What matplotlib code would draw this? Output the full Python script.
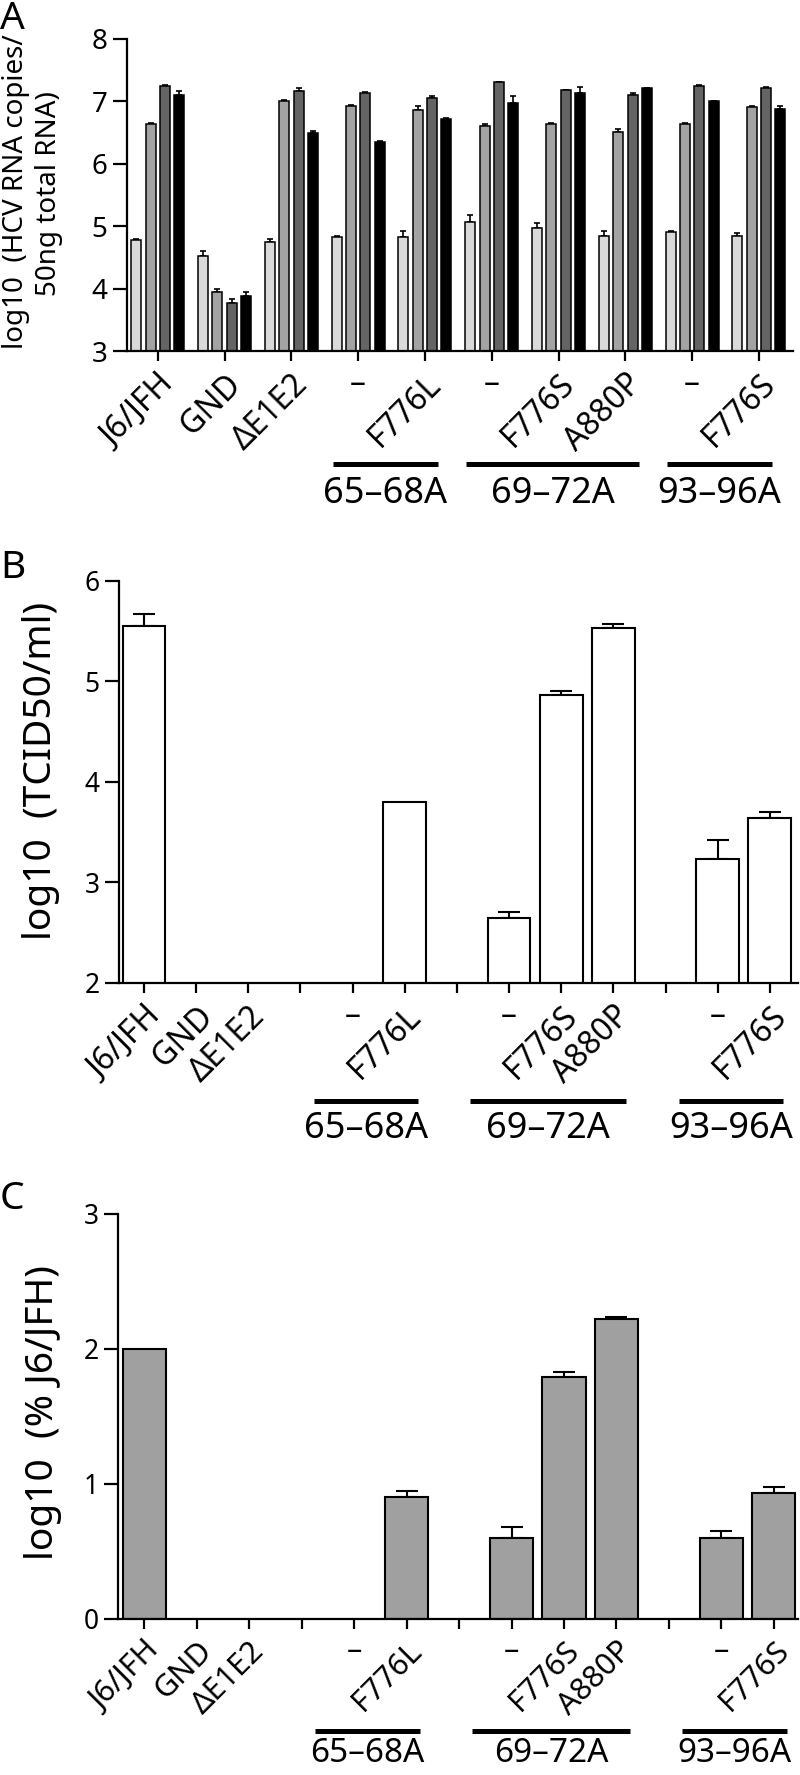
import numpy as np
import matplotlib
matplotlib.use('Agg')
import matplotlib.pyplot as plt

plt.rcParams['font.family'] = ['Noto Sans', 'DejaVu Sans']

# --- panel A: HCV RNA, four time points per construct ---
a_labels = ['J6/JFH', 'GND', '\u0394E1E2', '\u2013', 'F776L', '\u2013', 'F776S', 'A880P', '\u2013', 'F776S']
a_t1 = [4.78, 4.52, 4.75, 4.82, 4.83, 5.06, 4.97, 4.84, 4.91, 4.84]
a_t1_err = [0.02, 0.08, 0.05, 0.02, 0.09, 0.12, 0.08, 0.08, 0.02, 0.05]
a_t2 = [6.64, 3.94, 7.01, 6.93, 6.86, 6.61, 6.64, 6.51, 6.64, 6.91]
a_t2_err = [0.02, 0.06, 0.02, 0.01, 0.07, 0.02, 0.02, 0.05, 0.02, 0.02]
a_t3 = [7.25, 3.77, 7.16, 7.13, 7.06, 7.31, 7.18, 7.11, 7.24, 7.21]
a_t3_err = [0.02, 0.07, 0.05, 0.02, 0.02, 0.0, 0.0, 0.02, 0.02, 0.02]
a_t4 = [7.11, 3.88, 6.50, 6.35, 6.72, 6.98, 7.13, 7.21, 7.01, 6.88]
a_t4_err = [0.05, 0.06, 0.02, 0.02, 0.02, 0.10, 0.10, 0.0, 0.0, 0.04]
a_groups = [('65\u201368A', 3, 4), ('69\u201372A', 5, 7), ('93\u201396A', 8, 9)]

# --- panels B and C share the category layout (blank slots are spacers) ---
bc_labels = ['J6/JFH', 'GND', '\u0394E1E2', '', '\u2013', 'F776L', '', '\u2013', 'F776S', 'A880P', '', '\u2013', 'F776S']
bc_groups = [('65\u201368A', 4, 5), ('69\u201372A', 7, 9), ('93\u201396A', 11, 12)]
nan = np.nan
b_tcid = [5.55, nan, nan, nan, nan, 3.80, nan, 2.65, 4.87, 5.53, nan, 3.23, 3.645]
b_err = [0.12, 0, 0, 0, 0, 0.0, 0, 0.06, 0.04, 0.04, 0, 0.19, 0.055]
c_pct = [2.0, nan, nan, nan, nan, 0.90, nan, 0.60, 1.79, 2.22, nan, 0.60, 0.93]
c_err = [0.0, 0, 0, 0, 0, 0.05, 0, 0.08, 0.04, 0.02, 0, 0.05, 0.05]


def style_axis(ax, ylim, yticks, xlim, ytick_fs):
    for s in ['top', 'right']:
        ax.spines[s].set_visible(False)
    for s in ['left', 'bottom']:
        ax.spines[s].set_linewidth(1.6)
    ax.set_ylim(*ylim)
    ax.set_yticks(yticks)
    ax.set_xlim(*xlim)
    ax.tick_params(axis='y', length=10, width=1.6, labelsize=ytick_fs, pad=4)
    ax.tick_params(axis='x', length=7, width=1.6, pad=5)


def set_cat_labels(ax, labels, fs):
    ax.set_xticks(range(len(labels)))
    ax.set_xticklabels(labels, rotation=45, ha='right', va='top',
                       rotation_mode='anchor', fontsize=fs)
    for t in ax.get_xticklabels():
        if t.get_text() == '\u2013':
            t.set_rotation(0)
            t.set_ha('center')


def group_bars(ax, groups, pad_l, pad_r, y_line, y_text, fs):
    tr = ax.get_xaxis_transform()
    for name, i0, i1 in groups:
        x0, x1 = i0 - pad_l, i1 + pad_r
        ax.plot([x0, x1], [y_line, y_line], color='black', lw=3.6,
                solid_capstyle='butt', transform=tr, clip_on=False)
        ax.text((x0 + x1) / 2, y_text, name, transform=tr,
                ha='center', va='top', fontsize=fs)


def single_bars(ax, vals, errs, fill):
    x = np.arange(len(vals))
    v = np.array(vals, dtype=float)
    e = np.array(errs, dtype=float)
    ok = ~np.isnan(v)
    ax.bar(x[ok], v[ok], width=0.82, color=fill, edgecolor='black', linewidth=1.5, zorder=2)
    has_err = ok & (e > 0)
    ax.errorbar(x[has_err], v[has_err], yerr=[np.zeros(has_err.sum()), e[has_err]],
                fmt='none', ecolor='black', elinewidth=1.5, capsize=8, capthick=1.5, zorder=1)


fig = plt.figure(figsize=(8, 17.75), dpi=100)

# ---------------- A ----------------
axA = fig.add_axes([0.15875, 0.80225, 0.8325, 0.17578])
series = [(a_t1, a_t1_err, '#d9d9d9'), (a_t2, a_t2_err, '#a3a3a3'),
          (a_t3, a_t3_err, '#646464'), (a_t4, a_t4_err, '#000000')]
xa = np.arange(len(a_labels))
step = 0.215
for k, (vals, errs, col) in enumerate(series):
    off = (k - 1.5) * step
    axA.bar(xa + off, vals, width=0.15, color=col, edgecolor='black', linewidth=1.1, zorder=2)
    axA.errorbar(xa + off, vals, yerr=[np.zeros(len(vals)), errs], fmt='none',
                 ecolor='black', elinewidth=1.2, capsize=2.5, capthick=1.2, zorder=1)
style_axis(axA, (3, 8), range(3, 9), (-0.46, 9.51), 20)
set_cat_labels(axA, a_labels, 23)
group_bars(axA, a_groups, 0.38, 0.2, -0.362, -0.40, 26)
fig.text(16 / 800, 1 - 192 / 1775, 'log10  (HCV RNA copies/', rotation=90,
         ha='center', va='center', fontsize=20)
fig.text(49 / 800, 1 - 194 / 1775, '50ng total RNA)', rotation=90,
         ha='center', va='center', fontsize=20)
fig.text(0.0, 1.0, 'A', ha='left', va='top', fontsize=28)

# ---------------- B ----------------
axB = fig.add_axes([0.14875, 0.44620, 0.84875, 0.22648])
single_bars(axB, b_tcid, b_err, 'white')
style_axis(axB, (2, 6), range(2, 7), (-0.48, 12.54), 19)
set_cat_labels(axB, bc_labels, 23)
group_bars(axB, bc_groups, 0.75, 0.25, -0.294, -0.318, 26)
fig.text(41 / 800, 1 - 771 / 1775, 'log10  (TCID50/ml)', rotation=90,
         ha='center', va='center', fontsize=28)
fig.text(0.0, 1 - 549 / 1775, 'B', ha='left', va='top', fontsize=28)

# ---------------- C ----------------
axC = fig.add_axes([0.1475, 0.08789, 0.85, 0.22817])
single_bars(axC, c_pct, c_err, '#a0a0a0')
style_axis(axC, (0, 3), range(0, 4), (-0.5, 12.46), 19)
set_cat_labels(axC, bc_labels, 22)
group_bars(axC, bc_groups, 0.75, 0.25, -0.276, -0.291, 24)
fig.text(43 / 800, 1 - 1413 / 1775, 'log10  (% J6/JFH)', rotation=90,
         ha='center', va='center', fontsize=28)
fig.text(0.0, 1 - 1180 / 1775, 'C', ha='left', va='top', fontsize=28)

fig.savefig('out.png', dpi=100)
